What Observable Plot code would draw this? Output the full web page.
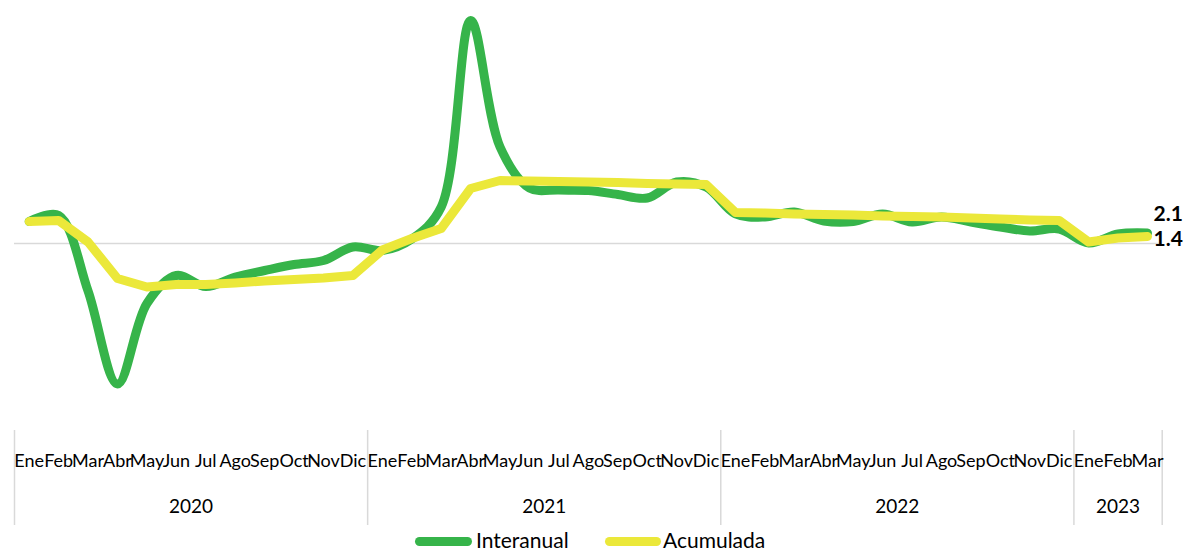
<!DOCTYPE html>
<html>
<head>
<meta charset="utf-8">
<script src="https://cdn.jsdelivr.net/npm/d3@7"></script>
<script src="https://cdn.jsdelivr.net/npm/@observablehq/plot@0.6"></script>
<style>
  body { margin: 0; background: #fff; font-family: Lato, "Open Sans", sans-serif; }
  #legend { height: 20px; font-size: 21px; color: #000; position: relative; }
  .sw { position: absolute; height: 9px; border-radius: 5px; top: 7px; }
  .lb { position: absolute; top: -3px; }
</style>
</head>
<body>
<div id="chart"></div>
<script>
const monthNames = ["Ene","Feb","Mar","Abr","May","Jun","Jul","Ago","Sep","Oct","Nov","Dic"];
const monthLabels = [...monthNames, ...monthNames, ...monthNames, "Ene", "Feb", "Mar"];
const years = ["2020", "2021", "2022", "2023"];
const yearMid = [5.5, 17.5, 29.5, 37];
const yearBounds = [-0.5, 11.5, 23.5, 35.5, 38.5];

const interanual = [
  4.4, 5.6, -9.5, -28.1, -12.0, -6.4, -8.6, -6.7, -5.4, -4.2, -3.4, -0.7,
  -1.4, 0.9, 7.3, 44.6, 19.3, 11.1, 10.7, 10.6, 9.8, 9.1, 12.3, 11.3,
  5.9, 5.3, 6.3, 4.5, 4.4, 5.9, 4.3, 5.3, 4.3, 3.3, 2.5, 2.9,
  0.1, 1.9, 2.1
];
const acumulada = [
  4.4, 4.6, 0.3, -7.0, -8.7, -8.2, -8.2, -7.9, -7.5, -7.2, -6.9, -6.4,
  -1.3, 1.0, 3.0, 11.0, 12.6, 12.5, 12.4, 12.3, 12.2, 12.0, 11.9, 11.8,
  6.2, 6.1, 5.9, 5.8, 5.7, 5.5, 5.4, 5.3, 5.1, 4.9, 4.7, 4.6,
  0.3, 1.1, 1.4
];

const green = "#36b44a";
const yellow = "#ebe83a";

const dInter = interanual.map((v, i) => ({i, v}));
const dAcum = acumulada.map((v, i) => ({i, v}));
const last = interanual.length - 1;

const chart = Plot.plot({
  width: 1188,
  height: 530,
  marginLeft: 14,
  marginRight: 26.3,
  marginTop: 10,
  marginBottom: 100,
  style: {fontFamily: "Lato, 'Open Sans', sans-serif", background: "#fff"},
  x: {type: "linear", domain: [-0.5, 38.5], axis: null},
  y: {domain: [-37.4, 46.6], axis: null},
  marks: [
    Plot.ruleY([0], {stroke: "#d9d9d9", strokeWidth: 1.5}),
    Plot.axisX(yearBounds, {label: null, tickSize: 95, tickFormat: () => "", stroke: "#d9d9d9", strokeWidth: 1.5}),
    Plot.axisX(d3.range(monthLabels.length), {label: null, tickSize: 0, tickPadding: 24, tickFormat: i => monthLabels[i], fontSize: 18, fill: "#000"}),
    Plot.axisX(yearMid, {label: null, tickSize: 0, tickPadding: 69, tickFormat: (d, k) => years[k], fontSize: 19, fill: "#000"}),
    Plot.line(dInter, {x: "i", y: "v", stroke: green, strokeWidth: 9, curve: "catmull-rom", strokeLinecap: "round", strokeLinejoin: "round"}),
    Plot.line(dAcum, {x: "i", y: "v", stroke: yellow, strokeWidth: 9, strokeLinecap: "round", strokeLinejoin: "round"}),
    Plot.text([dInter[last]], {x: "i", y: "v", text: d => d.v.toFixed(1), textAnchor: "start", dx: 6, dy: -19, fontSize: 21, fontWeight: "bold", fill: "#000"}),
    Plot.text([dAcum[last]], {x: "i", y: "v", text: d => d.v.toFixed(1), textAnchor: "start", dx: 6, dy: 3, fontSize: 21, fontWeight: "bold", fill: "#000"})
  ]
});

const root = document.getElementById("chart");
root.appendChild(chart);
const legend = document.createElement("div");
legend.id = "legend";
legend.innerHTML = `
  <span class="sw" style="left:415px;width:57px;background:${green}"></span>
  <span class="lb" style="left:476px">Interanual</span>
  <span class="sw" style="left:605px;width:56px;background:${yellow}"></span>
  <span class="lb" style="left:663px">Acumulada</span>`;
root.appendChild(legend);
</script>
</body>
</html>
